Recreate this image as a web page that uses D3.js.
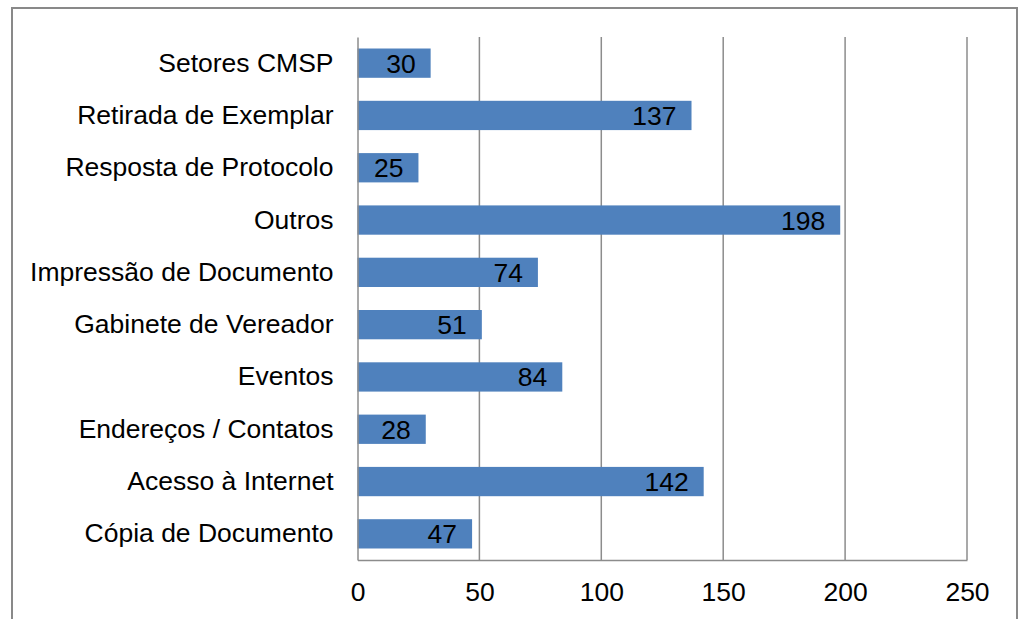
<!DOCTYPE html>
<html>
<head>
<meta charset="utf-8">
<script src="https://cdn.jsdelivr.net/npm/d3@7"></script>
<style>
  body { margin: 0; background: #fff; }
  text { font-family: "Liberation Sans", Arial, sans-serif; fill: #000; }
</style>
</head>
<body>
<div id="chart-container"></div>
<script>
const categories = [
  'Setores CMSP',
  'Retirada de Exemplar',
  'Resposta de Protocolo',
  'Outros',
  'Impressão de Documento',
  'Gabinete de Vereador',
  'Eventos',
  'Endereços / Contatos',
  'Acesso à Internet',
  'Cópia de Documento'
];
const values = [30, 137, 25, 198, 74, 51, 84, 28, 142, 47];
const xTicks = [0, 50, 100, 150, 200, 250];

const width = 1020,
  height = 619;
const margin = {top: 37, right: 53, bottom: 59, left: 357.5};
const gWidth = width - margin.left - margin.right;
const gHeight = height - margin.top - margin.bottom;
const fontSize = '26.5px';

const svg = d3.select('div#chart-container')
  .append('svg')
  .attr('width', width)
  .attr('height', height);

// outer frame (bottom edge runs off the picture)
svg.append('rect')
  .attr('x', 12)
  .attr('y', 8)
  .attr('width', 1005)
  .attr('height', 640)
  .attr('fill', 'none')
  .attr('stroke', '#898989')
  .attr('stroke-width', 2);

const g = svg.append('g')
  .attr('transform', `translate(${margin.left}, ${margin.top})`);

const xScale = d3.scaleLinear()
  .domain([0, 250])
  .range([0, gWidth]);
const yScale = d3.scaleBand()
  .domain(categories)
  .range([0, gHeight])
  .paddingInner(0.44)
  .paddingOuter(0.22);

// vertical gridlines
g.append('g')
  .selectAll('line')
  .data(xTicks.slice(1))
  .join('line')
  .attr('x1', d => xScale(d))
  .attr('x2', d => xScale(d))
  .attr('y1', 0)
  .attr('y2', gHeight)
  .attr('stroke', '#8c8c8c')
  .attr('stroke-width', 1.5);

// bars
g.append('g')
  .selectAll('rect')
  .data(values)
  .join('rect')
  .attr('x', 0)
  .attr('y', (_, i) => yScale(categories[i]))
  .attr('width', d => xScale(d))
  .attr('height', yScale.bandwidth())
  .attr('fill', '#4f81bd');

// value labels at the inside end
g.append('g')
  .selectAll('text')
  .data(values)
  .join('text')
  .attr('x', d => xScale(d) - 15)
  .attr('y', (_, i) => yScale(categories[i]) + yScale.bandwidth() / 2)
  .attr('dy', '0.36em')
  .attr('text-anchor', 'end')
  .style('font-size', fontSize)
  .text(d => d);

// x axis
const xAxis = g.append('g')
  .attr('transform', `translate(0, ${gHeight})`)
  .call(d3.axisBottom(xScale).tickValues(xTicks).tickSize(0).tickPadding(22));
xAxis.select('.domain').attr('stroke', '#8c8c8c').attr('stroke-width', 1.5);
xAxis.selectAll('text').style('font-size', fontSize).attr('fill', '#000');

// y axis
const yAxis = g.append('g')
  .call(d3.axisLeft(yScale).tickSize(0).tickPadding(24));
yAxis.select('.domain').attr('stroke', '#8c8c8c').attr('stroke-width', 1.5);
yAxis.selectAll('text').style('font-size', fontSize).attr('fill', '#000');
</script>
</body>
</html>
